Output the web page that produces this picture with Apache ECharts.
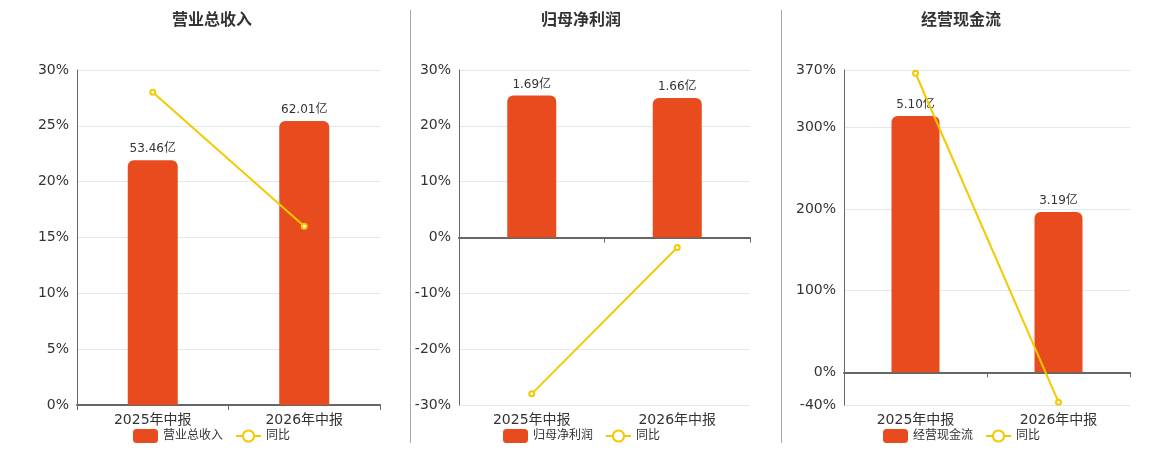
<!DOCTYPE html>
<html>
<head>
<meta charset="utf-8">
<script src="https://cdn.jsdelivr.net/npm/echarts@6/dist/echarts.min.js"></script>
<style>
  html, body { margin: 0; padding: 0; background: #fff; }
  #main { width: 1160px; height: 450px; }
</style>
</head>
<body>
<div id="main"></div>
<script>
// 数据
var categories = ['2025年中报', '2026年中报'];
var titles = ['营业总收入', '归母净利润', '经营现金流'];
var revenue = [53.46, 62.01];
var revenueYoy = [28.0, 16.0];
var profit = [1.69, 1.66];
var profitYoy = [-28.0, -1.8];
var cash = [5.10, 3.19];
var cashYoy = [366, -36.5];
// 百分比轴刻度
var revenueTicks = [0, 5, 10, 15, 20, 25, 30];
var profitTicks = [-30, -20, -10, 0, 10, 20, 30];
var cashTicks = [-40, 0, 100, 200, 300, 370];

document.addEventListener('DOMContentLoaded', function () {
  var myChart = echarts.init(document.getElementById('main'));
  var font = '"DejaVu Sans", "Noto Sans CJK SC", sans-serif';
  var barData = [revenue, profit, cash];
  var yoyData = [revenueYoy, profitYoy, cashYoy];
  var tickData = [revenueTicks, profitTicks, cashTicks];

  // 布局
  var grids = [
    { left: 77, width: 303, top: 70, bottom: 45 },
    { left: 459, width: 291, top: 70, bottom: 45 },
    { left: 844, width: 286, top: 70, bottom: 45 }
  ];
  var titleLeft = [167, 536, 916];
  var legendLeft = [128, 498, 878];
  var barWidths = [50, 49, 48];

  var option = {
    animation: false,
    textStyle: { fontFamily: font },
    title: [], legend: [], grid: grids, xAxis: [], yAxis: [], series: [],
    graphic: [
      { type: 'line', shape: { x1: 410.5, y1: 10, x2: 410.5, y2: 443 }, style: { stroke: '#aaa', lineWidth: 1 } },
      { type: 'line', shape: { x1: 781.5, y1: 10, x2: 781.5, y2: 443 }, style: { stroke: '#aaa', lineWidth: 1 } }
    ]
  };

  for (var i = 0; i < 3; i++) {
    var ticks = tickData[i];
    var pMin = ticks[0], pMax = ticks[ticks.length - 1];
    var barMax = Math.max.apply(null, barData[i]) * 1.18;
    var barMin = pMin / pMax * barMax;

    option.title.push({
      text: titles[i], left: titleLeft[i], top: 8,
      textStyle: { fontSize: 16, fontWeight: 'bold', color: '#333', fontFamily: font }
    });
    option.legend.push({
      data: [titles[i], '同比'], left: legendLeft[i], top: 424,
      itemWidth: 25, itemHeight: 14, itemGap: 12,
      textStyle: { fontSize: 12, color: '#333' }
    });
    option.xAxis.push({
      type: 'category', gridIndex: i, data: categories,
      axisLine: { lineStyle: { color: '#666', width: 2 } },
      axisTick: { show: true, length: 5, lineStyle: { color: '#666' } },
      axisLabel: { fontSize: 14, color: '#333', margin: 8 }
    });
    // 百分比轴
    option.yAxis.push({
      type: 'value', gridIndex: i, min: pMin, max: pMax,
      axisLine: { show: true, lineStyle: { color: '#666' } },
      axisTick: { show: false, customValues: ticks },
      axisLabel: { fontSize: 14, color: '#333', formatter: '{value}%', customValues: ticks },
      splitLine: { lineStyle: { color: '#e3e7f0' } }
    });
    // 柱子的隐藏轴
    option.yAxis.push({
      type: 'value', gridIndex: i, min: barMin, max: barMax, show: false,
      splitLine: { show: false }
    });
    option.series.push({
      name: titles[i], type: 'bar', xAxisIndex: i, yAxisIndex: i * 2 + 1,
      data: barData[i], barWidth: barWidths[i],
      itemStyle: { color: '#e84c1e', borderRadius: [6, 6, 0, 0] },
      label: {
        show: true, position: 'top', fontSize: 12, color: '#333',
        formatter: function (p) { return p.value.toFixed(2) + '亿'; }
      }
    });
    option.series.push({
      name: '同比', type: 'line', xAxisIndex: i, yAxisIndex: i * 2,
      data: yoyData[i], symbol: 'emptyCircle', symbolSize: 5, z: 5,
      itemStyle: { color: '#f3c900' },
      lineStyle: { color: '#f3c900', width: 2 }
    });
  }

  myChart.setOption(option);
});
</script>
</body>
</html>
